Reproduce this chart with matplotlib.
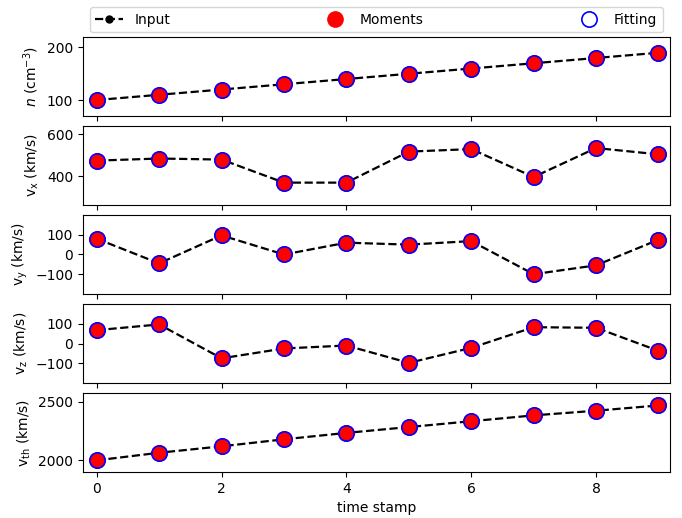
import numpy as np
import matplotlib
matplotlib.use("Agg")
import matplotlib.pyplot as plt

t = np.arange(10)
n_vals = [100, 110, 120, 130, 140, 150, 160, 170, 180, 190]
vx_vals = [475, 485, 480, 370, 370, 518, 530, 397, 535, 505]
vy_vals = [80, -45, 97, 0, 60, 50, 68, -100, -55, 75]
vz_vals = [68, 97, -75, -25, -10, -98, -22, 83, 80, -37]
vth_vals = [2000, 2065, 2120, 2180, 2235, 2285, 2335, 2385, 2425, 2470]

series = [n_vals, vx_vals, vy_vals, vz_vals, vth_vals]
ylabels = [r'$n$ (cm$^{-3}$)', r'v$_{\rm x}$ (km/s)', r'v$_{\rm y}$ (km/s)',
           r'v$_{\rm z}$ (km/s)', r'v$_{\rm th}$ (km/s)']
ylims = [(70, 220), (264, 640), (-200, 200), (-200, 200), (1900, 2575)]
yticks = [[100, 200], [400, 600], [-100, 0, 100], [-100, 0, 100], [2000, 2500]]

fig, axes = plt.subplots(5, 1, figsize=(6.82, 5.18), dpi=100, sharex=True)
fig.subplots_adjust(left=0.1217, right=0.982, top=0.9286, bottom=0.0888, hspace=0.13)

for ax, vals, lab, yl, yt in zip(axes, series, ylabels, ylims, yticks):
    l1, = ax.plot(t, vals, 'k--o', lw=1.6, ms=5, label='Input')
    l2, = ax.plot(t, vals, 'o', color='red', ms=11, mec='red', ls='none', label='Moments')
    l3, = ax.plot(t, vals, 'o', mfc='none', mec='blue', mew=1.2, ms=11, ls='none', label='Fitting')
    ax.set_ylabel(lab)
    ax.set_ylim(*yl)
    ax.set_yticks(yt)
    ax.set_xlim(-0.22, 9.18)

axes[0].legend(handles=[l1, l2, l3], bbox_to_anchor=(0, 0.97, 1, 0.2), loc='lower left',
               mode='expand', ncol=3)
axes[-1].set_xlabel('time stamp')
axes[-1].set_xticks([0, 2, 4, 6, 8])

fig.savefig('out.png', dpi=100)
